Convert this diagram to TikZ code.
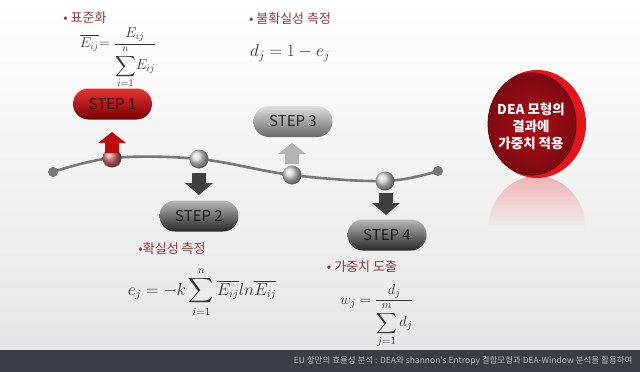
\documentclass[tikz,border=0pt]{standalone}
\usepackage{fontspec}
\usepackage{amsmath}
\newfontfamily\kr{Noto Sans CJK KR}
\usetikzlibrary{fadings}
\definecolor{labred}{HTML}{8C3B3B}
\definecolor{curvegray}{HTML}{777777}
\definecolor{footbg}{HTML}{3B3E43}
\definecolor{discrim}{HTML}{E3141B}
\definecolor{discface}{HTML}{A0101A}
\definecolor{discdark}{HTML}{7C0A12}
\tikzset{
  pill/.style={rounded corners=15.5pt, minimum width=79pt, minimum height=31pt, inner sep=0pt,
    font=\kr\fontsize{15}{15}\selectfont},
  redpill/.style={pill, top color={rgb,255:red,232;green,52;blue,52}, middle color={rgb,255:red,192;green,6;blue,10}, bottom color={rgb,255:red,120;green,0;blue,0}, text={rgb,255:red,50;green,5;blue,5}},
  darkpill/.style={pill, top color=gray!55, middle color=gray!80!black, bottom color=black!85, text=black!90},
  lightpill/.style={pill, top color=gray!25, middle color=gray!55, bottom color=gray!80!black, text=black!85},
  lab/.style={font=\kr\fontsize{13}{13}\selectfont, text=labred},
  frm/.style={font=\fontsize{16.5}{16.5}\selectfont, text=black!80, inner sep=1pt},
  gball/.style={circle, minimum size=19pt, inner sep=0pt, ball color=gray!35},
  rball/.style={circle, minimum size=19pt, inner sep=0pt, ball color={rgb,255:red,220;green,110;blue,115}},
  enddot/.style={circle, fill=curvegray, minimum size=10pt, inner sep=0pt},
  uparr/.pic={\fill[pic actions] (0,0) -- (14,11) -- (7,11) -- (7,21) -- (-7,21) -- (-7,11) -- (-14,11) -- cycle;},
  downarr/.pic={\fill[pic actions] (0,0) -- (14,-12) -- (7,-12) -- (7,-22) -- (-7,-22) -- (-7,-12) -- (-14,-12) -- cycle;},
}
\begin{document}
\begin{tikzpicture}[x=1pt,y=-1pt]
\useasboundingbox (0,0) rectangle (640,372);
% background
\shade[top color=white, bottom color=gray!20] (0,0) rectangle (640,350);
\fill[footbg] (0,350) rectangle (640,372);
\node[anchor=east, text=gray!55, font=\kr\fontsize{8.5}{8.5}\selectfont] (foot) at (636,361)
  {EU 항만의 효율성 분석 : DEA와 shannon's Entropy 결합모형과 DEA-Window 분석을 활용하여};

% curve
\coordinate (p0) at (53,172);
\coordinate (c1) at (112,158);
\coordinate (c2) at (199,159);
\coordinate (c3) at (292,175);
\coordinate (c4) at (385,181);
\coordinate (p5) at (438,171);
\draw[curvegray, line width=2.6pt] plot[smooth, tension=0.6] coordinates {(p0) (c1) (c2) (c3) (c4) (p5)};
\node[enddot] (d0) at (p0) {};
\node[enddot] (d5) at (p5) {};
\node[rball] (b1) at (c1) {};
\node[gball] (b2) at (c2) {};
\node[gball] (b3) at (c3) {};
\node[gball] (b4) at (c4) {};

% arrows
\pic[fill={rgb,255:red,190;green,10;blue,10}] at (112,132) {uparr};
\pic[fill=gray!60] at (292,143) {uparr};
\pic[fill=black!75] at (199,195) {downarr};
\pic[fill=black!75] at (386,215) {downarr};

% pills
\node[redpill] (s1) at (112.5,104) {STEP 1};
\node[darkpill] (s2) at (199,216) {STEP 2};
\node[lightpill] (s3) at (293,121.5) {STEP 3};
\node[darkpill] (s4) at (387,235) {STEP 4};

% labels
\node[lab] (l1) at (85,18) {• 표준화};
\node[lab] (l3) at (290,19) {• 불확실성 측정};
\node[lab] (l2) at (172,249) {•확실성 측정};
\node[lab] (l4) at (362,267) {• 가중치 도출};

% formulas
\node[frm, font=\fontsize{14.5}{14.5}\selectfont] (f1) at (118,58) {$\overline{E_{ij}}{=}\;\dfrac{E_{ij}}{\displaystyle\sum_{i=1}^{n}\!E_{ij}}$};
\node[frm] (f3) at (290,53) {$d_j=1-e_j$};
\node[frm, font=\fontsize{16}{16}\selectfont] (f2) at (202,292) {$\displaystyle e_j=-k\sum_{i=1}^{n}\overline{E_{ij}}ln\overline{E_{ij}}$};
\node[frm, font=\fontsize{15.5}{15.5}\selectfont] (f4) at (377,316) {$w_j=\dfrac{d_j}{\displaystyle\sum_{j=1}^{m}d_j}$};

% red disc with reflection
\begin{scope}
  \clip (537,230) ellipse [x radius=49, y radius=54];
  \fill[discrim!80, opacity=0.35, path fading=south] (485,177) rectangle (590,228);
\end{scope}
\fill[discrim] (537,124) ellipse [x radius=49, y radius=54];
\shade[inner color=discface!85!red, outer color=discdark] (532,124) ellipse [x radius=44, y radius=51];
\draw[discdark!80!black, line width=0.8pt] (532,124) ellipse [x radius=44, y radius=51];
\node[text=white, align=center, font=\kr\bfseries\fontsize{13.5}{17}\selectfont] (disc) at (531,126)
  {DEA 모형의\\결과에\\가중치 적용};
\end{tikzpicture}
\end{document}
